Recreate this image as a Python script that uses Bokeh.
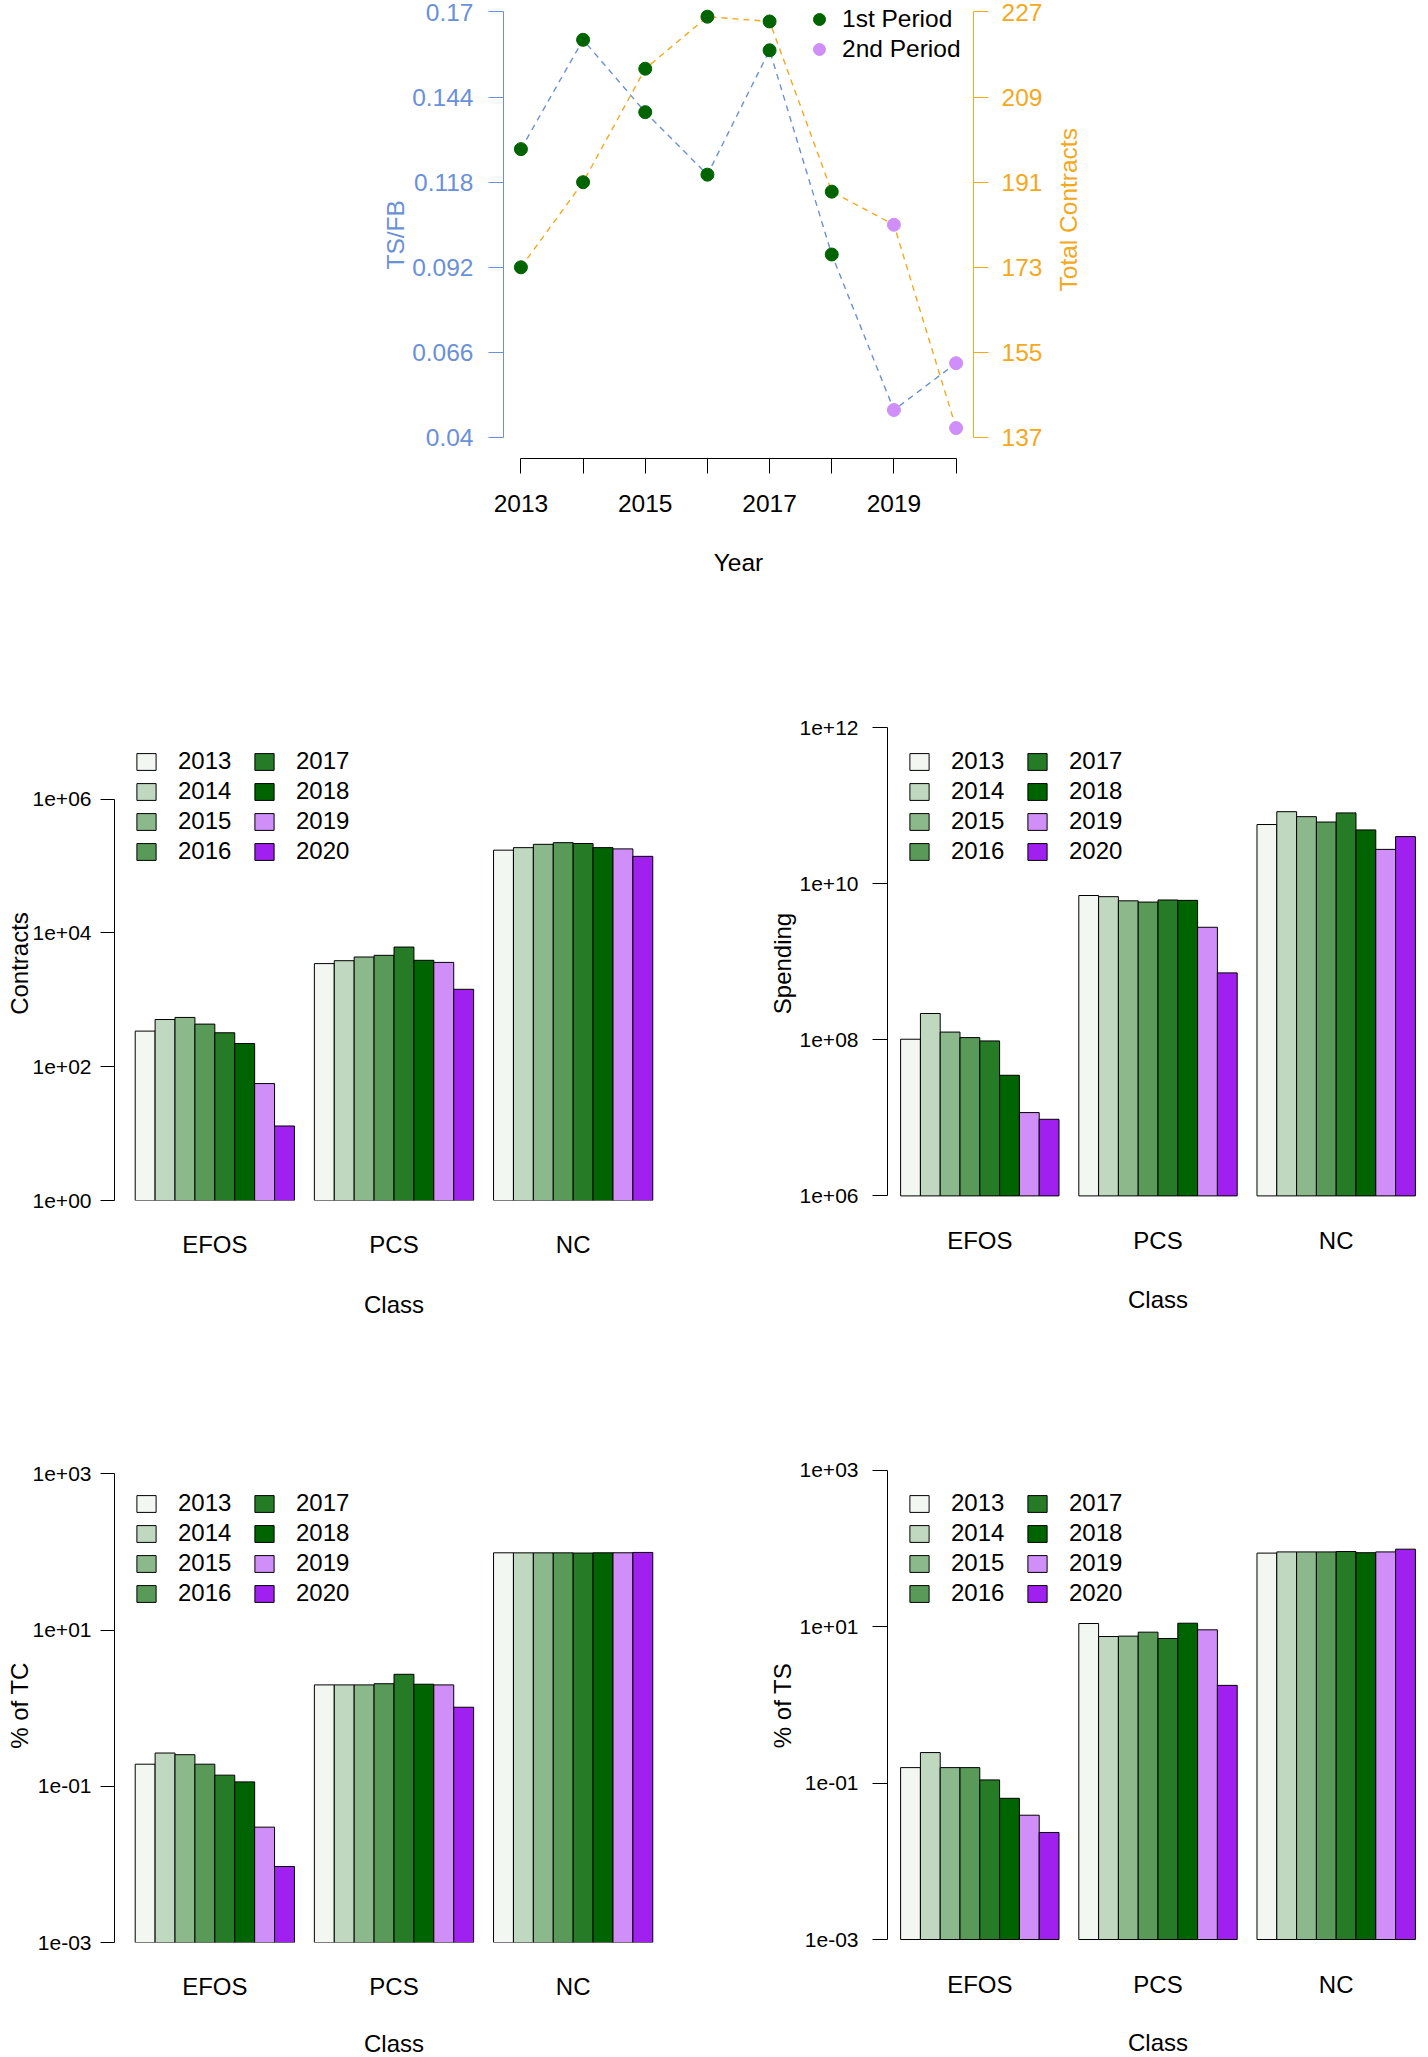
import math
from bokeh.plotting import figure
from bokeh.layouts import column, row
from bokeh.models import (Range1d, LinearAxis, FixedTicker, CustomJSTickFormatter,
                          Legend, LegendItem, ColumnDataSource, FactorRange, Title)
from bokeh.transform import dodge
from bokeh.embed import file_html
from bokeh.resources import INLINE

# ---------------- data ----------------
years = [2013, 2014, 2015, 2016, 2017, 2018, 2019, 2020]
periods = ["1st Period"] * 6 + ["2nd Period"] * 2
ts_fb = [0.1281, 0.1615, 0.1394, 0.1203, 0.1583, 0.0959, 0.0484, 0.0627]
total_contracts = [173, 191, 215, 226, 225, 189, 182, 139]
ts_fb_ticks = [0.04, 0.066, 0.092, 0.118, 0.144, 0.17]
tc_ticks = [137, 155, 173, 191, 209, 227]

classes = ["EFOS", "PCS", "NC"]
year_labels = [str(y) for y in years]

contracts_efos = [341, 508, 546, 434, 322, 222, 56, 13]
contracts_pcs = [3483, 3850, 4373, 4632, 6157, 3902, 3631, 1438]
contracts_nc = [173000, 188600, 211500, 224000, 217500, 188700, 180800, 139900]

spending_efos = [1.02e8, 2.18e8, 1.26e8, 1.07e8, 9.7e7, 3.52e7, 1.17e7, 9.6e6]
spending_pcs = [7.1e9, 6.86e9, 6.07e9, 5.85e9, 6.22e9, 6.15e9, 2.78e9, 7.23e8]
spending_nc = [5.77e10, 8.43e10, 7.28e10, 6.21e10, 8.13e10, 4.92e10, 2.77e10, 4.04e10]

pct_tc_efos = [0.192, 0.267, 0.254, 0.192, 0.139, 0.114, 0.030, 0.0094]
pct_tc_pcs = [1.99, 1.99, 1.99, 2.06, 2.72, 2.03, 1.99, 1.03]
pct_tc_nc = [97.8, 97.7, 97.7, 97.7, 97.2, 97.8, 97.9, 98.9]

pct_ts_efos = [0.158, 0.246, 0.158, 0.158, 0.110, 0.064, 0.0389, 0.0234]
pct_ts_pcs = [11.0, 7.50, 7.59, 8.53, 7.08, 11.1, 9.14, 1.78]
pct_ts_nc = [87.5, 90.6, 90.6, 90.6, 91.6, 88.5, 90.6, 98.2]

contracts_ticks = [1e0, 1e2, 1e4, 1e6]
spending_ticks = [1e6, 1e8, 1e10, 1e12]
pct_ticks = [1e-3, 1e-1, 1e1, 1e3]

# ---------------- styles ----------------
FONT = "Liberation Sans"
BLUE = "#6A90D8"
ORANGE = "#F4A81D"
period_colors = {"1st Period": "#006400", "2nd Period": "#D08FF8"}
year_colors = ["#F2F7F2", "#BFD8BF", "#8CB98C", "#599A59", "#267B26", "#006400", "#D08FF8", "#A020F0"]

LOG_FMT = """
const e = Math.round(Math.log10(tick));
const a = Math.abs(e);
return "1e" + (e < 0 ? "-" : "+") + (a < 10 ? "0" + a : "" + a);
"""


def clean(p):
    p.outline_line_color = None
    p.xgrid.visible = False
    p.ygrid.visible = False
    p.background_fill_color = "white"
    p.border_fill_color = "white"


def style_axis(ax, color, size, tick_out, standoff):
    ax.axis_line_color = color
    ax.axis_line_width = 1
    ax.major_tick_line_color = color
    ax.major_tick_out = tick_out
    ax.major_tick_in = 0
    ax.minor_tick_line_color = None
    ax.minor_tick_out = 0
    ax.minor_tick_in = 0
    ax.major_label_text_color = color
    ax.major_label_text_font = FONT
    ax.major_label_text_font_size = size
    ax.major_label_standoff = standoff
    ax.axis_label_text_font = FONT
    ax.axis_label_text_font_style = "normal"
    ax.axis_label_text_color = color


def vtitle(text, offset, standoff, size, color):
    # vertical title reading bottom-to-top, placed on a left side panel
    return Title(text=text, align="left", vertical_align="bottom", offset=offset,
                 standoff=standoff, text_font=FONT, text_font_size=size,
                 text_font_style="normal", text_color=color)


# ---------------- top chart ----------------
top = figure(frame_width=470, frame_height=458, min_border_left=503, min_border_right=72,
             min_border_top=0, min_border_bottom=142,
             x_range=Range1d(2012.72, 2020.28), y_range=Range1d(0.03358, 0.17351),
             output_backend="svg", toolbar_location=None)
top.extra_y_ranges = {"tc": Range1d(132.56, 229.43)}
clean(top)

top.line(years, ts_fb, line_color=BLUE, line_dash="6 5", line_width=1.4)
top.line(years, total_contracts, y_range_name="tc", line_color=ORANGE, line_dash="6 5", line_width=1.4)

top_items = []
for per in ["1st Period", "2nd Period"]:
    xs = [y for y, pp in zip(years, periods) if pp == per]
    a = [v for v, pp in zip(ts_fb, periods) if pp == per]
    b = [v for v, pp in zip(total_contracts, periods) if pp == per]
    r1 = top.scatter(xs, a, size=13, color=period_colors[per])
    top.scatter(xs, b, size=13, color=period_colors[per], y_range_name="tc")
    top_items.append(LegendItem(label=per, renderers=[r1]))

xa = top.xaxis[0]
style_axis(xa, "black", "24.5px", 15, 21)
xa.ticker = FixedTicker(ticks=years)
xa.formatter = CustomJSTickFormatter(code="return (tick % 2 == 1) ? tick.toString() : '';")
xa.bounds = (years[0], years[-1])
xa.axis_label = "Year"
xa.axis_label_text_font_size = "24.5px"
xa.axis_label_standoff = 34

ya = top.yaxis[0]
style_axis(ya, BLUE, "24.5px", 15, 15)
ya.ticker = FixedTicker(ticks=ts_fb_ticks)
ya.formatter = CustomJSTickFormatter(code="return tick.toString();")
ya.bounds = (ts_fb_ticks[0], ts_fb_ticks[-1])
top.add_layout(vtitle("TS/FB", 189, 2, "24.5px", BLUE), "left")

ra = LinearAxis(y_range_name="tc")
style_axis(ra, ORANGE, "24.5px", 15, 13)
ra.ticker = FixedTicker(ticks=tc_ticks)
ra.formatter = CustomJSTickFormatter(code="return tick.toString();")
ra.bounds = (tc_ticks[0], tc_ticks[-1])
top.add_layout(ra, "right")

top_leg = Legend(items=top_items, location=(301, 394), glyph_width=30, glyph_height=30,
                 label_height=30, label_standoff=8, spacing=0, padding=0, margin=0,
                 border_line_alpha=0, background_fill_alpha=0,
                 label_text_font=FONT, label_text_font_size="24.5px", label_text_color="black")
top.add_layout(top_leg)

# side panel carrying the right-hand axis title (reads bottom-to-top like the reference)
side = figure(frame_width=347, frame_height=458, min_border_left=36, min_border_right=0,
              min_border_top=0, min_border_bottom=142,
              x_range=Range1d(0, 1), y_range=Range1d(0, 1),
              output_backend="svg", toolbar_location=None)
clean(side)
side.xaxis.visible = False
side.yaxis.visible = False
side.add_layout(vtitle("Total Contracts", 167, 0, "24.5px", ORANGE), "left")


# ---------------- bar charts ----------------
def bar_chart(efos, pcs, nc, ylabel, yrange, ticks, mb_left, fw, mb_right, mb_top, fh, mb_bottom,
              pad, tick_out, tick_standoff, title_standoff, class_label_standoff, class_standoff):
    p = figure(frame_width=fw, frame_height=fh, min_border_left=mb_left, min_border_right=mb_right,
               min_border_top=mb_top, min_border_bottom=mb_bottom,
               x_range=FactorRange(factors=classes, range_padding=pad, range_padding_units="absolute"),
               y_range=Range1d(*yrange), y_axis_type="log",
               output_backend="svg", toolbar_location=None)
    clean(p)
    data = {"cls": classes}
    for j, yl in enumerate(year_labels):
        data[yl] = [efos[j], pcs[j], nc[j]]
    src = ColumnDataSource(data)
    items = []
    n = len(year_labels)
    for j, yl in enumerate(year_labels):
        r = p.vbar(x=dodge("cls", (j - (n - 1) / 2) / (n + 1), range=p.x_range), top=yl,
                   bottom=ticks[0], width=1 / (n + 1), source=src,
                   fill_color=year_colors[j], line_color="black", line_width=1)
        items.append(LegendItem(label=yl, renderers=[r]))

    yax = p.yaxis[0]
    style_axis(yax, "black", "21px", tick_out, tick_standoff)
    yax.ticker = FixedTicker(ticks=ticks)
    yax.formatter = CustomJSTickFormatter(code=LOG_FMT)
    yax.bounds = (ticks[0], ticks[-1])
    yax.axis_label = ylabel
    yax.axis_label_text_font_size = "24px"
    yax.axis_label_standoff = title_standoff

    xax = p.xaxis[0]
    style_axis(xax, "black", "24px", 0, class_label_standoff)
    xax.axis_line_color = None
    xax.major_tick_line_color = None
    xax.axis_label = "Class"
    xax.axis_label_text_font_size = "24px"
    xax.axis_label_standoff = class_standoff

    leg = Legend(items=items, location="top_left", ncols=2, margin=20, padding=0, spacing=0,
                 glyph_width=24, glyph_height=21, label_height=30, label_width=74,
                 label_standoff=20, border_line_alpha=0, background_fill_alpha=0,
                 label_text_font=FONT, label_text_font_size="24px", label_text_color="black")
    p.add_layout(leg)
    return p


c1 = bar_chart(contracts_efos, contracts_pcs, contracts_nc, "Contracts",
               (10 ** 0.0, 10 ** 7.087), contracts_ticks,
               114, 559, 47, 126, 474, 140, 0.06, 14, 9, -3, 30, 30)
c2 = bar_chart(spending_efos, spending_pcs, spending_nc, "Spending",
               (10 ** 5.941, 10 ** 12.018), spending_ticks,
               167, 541, 0, 126, 474, 140, 0.018, 15, 14, 1, 26, 29)
c3 = bar_chart(pct_tc_efos, pct_tc_pcs, pct_tc_nc, "% of TC",
               (10 ** -3.0, 10 ** 3.07), pct_ticks,
               114, 559, 47, 128, 474, 115, 0.06, 14, 9, -3, 30, 27)
c4 = bar_chart(pct_ts_efos, pct_ts_pcs, pct_ts_nc, "% of TS",
               (10 ** -3.038, 10 ** 3.024), pct_ticks,
               167, 541, 0, 128, 474, 115, 0.018, 15, 14, 1, 28, 28)

layout = column(row(top, side), row(c1, c2), row(c3, c4))
open("out.html", "w").write(file_html(layout, INLINE, title="chart"))
